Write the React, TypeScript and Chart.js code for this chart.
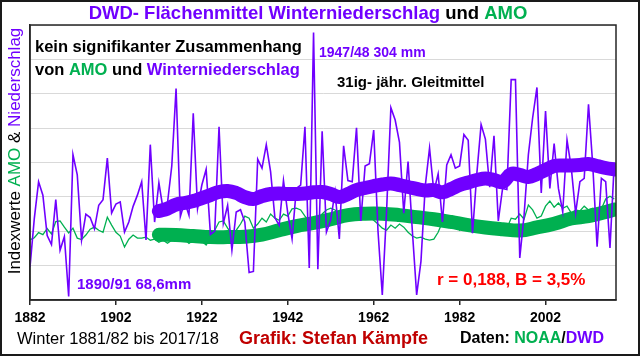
import React, { useEffect, useRef } from 'react';
import { Chart, registerables } from 'chart.js';

Chart.register(...registerables);

const FONT = '"Liberation Sans", Arial, Helvetica, sans-serif';
const PURPLE = '#7000FF';
const GREEN = '#00B050';
const BLACK = '#000000';

// Winters 1881/82 .. 2017/18, plotted at the January year
const firstYear = 1882;

// DWD area mean winter precipitation (mm)
const precipitationMm = [
  95, 138, 171, 159, 123, 115, 155, 110, 122, 68.6,
  195, 177, 119, 142, 139, 129, 150, 155, 192, 143,
  151, 153, 126, 135, 149, 159, 171, 119, 204, 135,
  170, 146, 152, 185, 254, 140, 153, 141, 232, 147,
  168, 182, 124, 127, 220, 134, 150, 110, 144, 146,
  135, 90, 91, 191, 183, 204, 180, 139, 132, 172,
  143, 120, 165, 168, 220, 94, 304, 93, 216, 126,
  137, 162, 120, 203, 172, 171, 219, 136, 185, 187,
  217, 127, 70, 145, 237, 226, 206, 143, 189, 127,
  70, 100, 167, 201, 162, 178, 135, 186, 195, 183,
  185, 213, 208, 125, 178, 222, 209, 166, 212, 136,
  165, 164, 262, 262, 103, 141, 195, 228, 255, 161,
  234, 165, 205, 165, 144, 208, 183, 143, 171, 174,
  240, 185, 113, 174, 171, 112, 188,
];

// AMO (index values on the chart's index axis)
const amoIndex = [
  1.75, 1.81, 1.96, 1.90, 2.08, 1.92, 2.28, 2.30, 2.12, 1.95,
  2.09, 1.80, 1.76, 1.89, 2.06, 2.12, 2.03, 1.97, 2.41, 2.18,
  1.97, 1.86, 1.54, 1.77, 1.89, 1.80, 1.80, 1.83, 1.74, 1.77,
  1.68, 1.74, 1.65, 1.74, 1.80, 1.71, 1.77, 1.65, 1.74, 1.80,
  1.71, 1.60, 1.80, 2.03, 2.27, 2.30, 2.09, 1.92, 2.03, 2.21,
  2.44, 2.38, 2.09, 2.21, 2.38, 2.27, 2.50, 2.38, 2.32, 2.50,
  2.44, 2.65, 2.67, 2.62, 2.44, 2.27, 2.38, 2.35, 2.50, 2.62,
  2.67, 2.62, 2.50, 2.59, 2.53, 2.44, 2.50, 2.56, 2.47, 2.41,
  2.32, 2.21, 2.09, 2.03, 2.18, 2.09, 2.21, 2.12, 1.97, 1.86,
  1.80, 1.83, 1.77, 1.74, 1.77, 1.97, 2.27, 2.15, 2.09, 2.21,
  2.03, 2.15, 2.09, 1.97, 2.06, 2.21, 2.03, 2.15, 2.09, 2.15,
  1.97, 2.09, 2.38, 2.35, 2.50, 2.35, 2.76, 2.62, 2.38, 2.44,
  2.73, 2.88, 2.70, 2.82, 2.67, 2.73, 2.53, 2.62, 2.59, 2.73,
  2.62, 2.67, 2.59, 2.65, 2.94, 3.02, 2.94,
];

// 31-year running mean of precipitation (mm)
const precipMeanYears = [
  1912, 1914, 1916, 1918, 1920, 1922, 1924, 1926, 1928, 1930,
  1932, 1934, 1936, 1938, 1940, 1942, 1944, 1946, 1948, 1950,
  1952, 1954, 1956, 1958, 1960, 1962, 1964, 1966, 1968, 1970,
  1972, 1974, 1976, 1978, 1980, 1982, 1984, 1986, 1988, 1990,
  1992, 1994, 1996, 1998, 2000, 2002, 2004, 2006, 2008, 2010,
  2012, 2014, 2016, 2018,
];
const precipMean = [
  144.8, 147.0, 150.6, 152.0, 153.7, 156.4, 159.1, 161.8, 162.7, 160.9,
  157.3, 155.5, 158.2, 160.0, 160.4, 160.0, 160.0, 160.4, 161.5, 161.8,
  160.0, 157.3, 160.0, 163.6, 165.4, 167.1, 168.5, 169.4, 168.0, 166.3,
  164.5, 163.1, 163.5, 161.5, 164.5, 168.0, 170.3, 172.5, 173.9, 172.5,
  170.7, 177.9, 177.0, 175.2, 177.9, 181.5, 185.0, 185.5, 185.5, 185.9,
  186.8, 185.0, 183.2, 181.9,
];

// 31-year running mean of AMO (index values)
const amoMeanYears = [
  1912, 1916, 1920, 1924, 1928, 1932, 1936, 1940, 1944, 1948,
  1952, 1956, 1960, 1964, 1968, 1972, 1976, 1980, 1984, 1988,
  1992, 1996, 2000, 2004, 2008, 2012, 2016, 2018,
];
const amoMean = [
  1.90, 1.89, 1.86, 1.83, 1.83, 1.84, 1.90, 2.03, 2.15, 2.24,
  2.35, 2.47, 2.51, 2.51, 2.47, 2.41, 2.35, 2.27, 2.18, 2.11,
  2.06, 2.02, 2.11, 2.22, 2.37, 2.44, 2.56, 2.63,
];

const xTickYears = [1882, 1902, 1922, 1942, 1962, 1982, 2002];

type Run = [string, string];

function drawRuns(
  ctx: CanvasRenderingContext2D,
  runs: Run[],
  x: number,
  y: number,
  font: string,
  align: 'left' | 'center' = 'left'
) {
  ctx.font = font;
  ctx.textBaseline = 'middle';
  ctx.textAlign = 'left';
  const total = runs.reduce((w, [t]) => w + ctx.measureText(t).width, 0);
  let cx = align === 'center' ? x - total / 2 : x;
  for (const [t, c] of runs) {
    ctx.fillStyle = c;
    ctx.fillText(t, cx, y);
    cx += ctx.measureText(t).width;
  }
}

export default function App() {
  const ref = useRef<HTMLCanvasElement>(null);

  useEffect(() => {
    document.body.style.margin = '0';
    const canvas = ref.current;
    if (!canvas) return;
    const years = precipitationMm.map((_, i) => firstYear + i);

    const decorPlugin = {
      id: 'decor',
      beforeDraw(chart: any) {
        const ctx = chart.ctx as CanvasRenderingContext2D;
        ctx.save();
        ctx.fillStyle = '#ffffff';
        ctx.fillRect(0, 0, chart.width, chart.height);
        ctx.restore();
      },
      afterDatasetsDraw(chart: any) {
        const ctx = chart.ctx as CanvasRenderingContext2D;
        const a = chart.chartArea;
        ctx.save();
        ctx.strokeStyle = '#262626';
        ctx.lineWidth = 1.5;
        ctx.strokeRect(a.left, a.top, a.right - a.left, a.bottom - a.top);
        ctx.restore();
      },
      afterDraw(chart: any) {
        const ctx = chart.ctx as CanvasRenderingContext2D;
        ctx.save();
        // title
        drawRuns(
          ctx,
          [
            ['DWD- Flächenmittel Winterniederschlag ', PURPLE],
            ['und ', BLACK],
            ['AMO', GREEN],
          ],
          308,
          14,
          `bold 18.5px ${FONT}`,
          'center'
        );
        // y axis title
        ctx.save();
        ctx.translate(15, 151);
        ctx.rotate(-Math.PI / 2);
        drawRuns(
          ctx,
          [
            ['Indexwerte ', BLACK],
            ['AMO', GREEN],
            [' & ', BLACK],
            ['Niederschlag', PURPLE],
          ],
          0,
          0,
          `17px ${FONT}`,
          'center'
        );
        ctx.restore();
        // annotations
        drawRuns(ctx, [['kein signifikanter Zusammenhang', BLACK]], 35, 47, `bold 16.5px ${FONT}`);
        drawRuns(
          ctx,
          [
            ['von ', BLACK],
            ['AMO', GREEN],
            [' und ', BLACK],
            ['Winterniederschlag', PURPLE],
          ],
          35,
          70,
          `bold 16.5px ${FONT}`
        );
        drawRuns(ctx, [['1947/48 304 mm', PURPLE]], 319, 53, `bold 14px ${FONT}`);
        drawRuns(ctx, [['31ig- jähr. Gleitmittel', BLACK]], 337, 83, `bold 15px ${FONT}`);
        drawRuns(ctx, [['1890/91 68,6mm', PURPLE]], 77, 285, `bold 15px ${FONT}`);
        drawRuns(ctx, [['r = 0,188, B = 3,5%', '#FF0000']], 437, 280, `bold 17px ${FONT}`);
        // footer
        drawRuns(ctx, [['Winter 1881/82 bis 2017/18', BLACK]], 17, 339, `16.5px ${FONT}`);
        drawRuns(ctx, [['Grafik: Stefan Kämpfe', '#C00000']], 239, 339, `bold 18px ${FONT}`);
        drawRuns(
          ctx,
          [
            ['Daten: ', BLACK],
            ['NOAA', GREEN],
            ['/', BLACK],
            ['DWD', PURPLE],
          ],
          460,
          339,
          `bold 16px ${FONT}`
        );
        // outer frame
        ctx.strokeStyle = '#1a1a1a';
        ctx.lineWidth = 2;
        ctx.strokeRect(1, 1, chart.width - 2, chart.height - 2);
        ctx.restore();
      },
    };

    const chart = new Chart(canvas, {
      type: 'line',
      data: {
        datasets: [
          {
            label: 'Niederschlag 31j. Gleitmittel',
            data: precipMeanYears.map((x, i) => ({ x, y: precipMean[i] })),
            yAxisID: 'yP',
            borderColor: PURPLE,
            backgroundColor: PURPLE,
            borderWidth: 14,
            pointRadius: 0,
            tension: 0.4,
            borderCapStyle: 'round',
            borderJoinStyle: 'round',
            order: 0,
            clip: 0,
          } as any,
          {
            label: 'Winterniederschlag',
            data: years.map((x, i) => ({ x, y: precipitationMm[i] })),
            yAxisID: 'yP',
            borderColor: PURPLE,
            backgroundColor: PURPLE,
            borderWidth: 1.6,
            pointRadius: 0,
            tension: 0,
            order: 1,
          } as any,
          {
            label: 'AMO 31j. Gleitmittel',
            data: amoMeanYears.map((x, i) => ({ x, y: amoMean[i] })),
            yAxisID: 'y',
            borderColor: GREEN,
            backgroundColor: GREEN,
            borderWidth: 14,
            pointRadius: 0,
            tension: 0.4,
            borderCapStyle: 'round',
            borderJoinStyle: 'round',
            order: 2,
            clip: 0,
          } as any,
          {
            label: 'AMO',
            data: years.map((x, i) => ({ x, y: amoIndex[i] })),
            yAxisID: 'y',
            borderColor: GREEN,
            backgroundColor: GREEN,
            borderWidth: 1.3,
            pointRadius: 0,
            tension: 0,
            order: 3,
          } as any,
        ],
      },
      options: {
        responsive: false,
        animation: false,
        devicePixelRatio: 1,
        events: [],
        layout: { padding: { top: 25, right: 24, left: 0, bottom: 0 } },
        plugins: {
          legend: { display: false },
          tooltip: { enabled: false },
          title: { display: false },
        },
        scales: {
          x: {
            type: 'linear',
            min: 1882,
            max: 2018.4,
            afterBuildTicks: (s: any) => {
              s.ticks = xTickYears.map((v) => ({ value: v }));
            },
            afterFit: (s: any) => {
              s.height = 56;
            },
            ticks: {
              callback: (v: any) => String(v),
              color: BLACK,
              font: { family: FONT, size: 14, weight: 'bold' },
              padding: 5,
              maxRotation: 0,
              autoSkip: false,
            },
            grid: {
              drawOnChartArea: false,
              drawTicks: true,
              tickLength: 5,
              color: '#262626',
              lineWidth: 1.5,
            },
            border: { display: true, color: '#262626', width: 1.5 },
          },
          y: {
            type: 'linear',
            min: 0,
            max: 8,
            afterFit: (s: any) => {
              s.width = 30;
            },
            ticks: { display: false, stepSize: 1 },
            grid: { color: '#d9d9d9', lineWidth: 1, drawTicks: false },
            border: { display: true, color: '#262626', width: 1.5 },
          },
          yP: {
            type: 'linear',
            display: false,
            min: 65.5,
            max: 310.7,
          },
        },
      } as any,
      plugins: [decorPlugin],
    });

    return () => chart.destroy();
  }, []);

  return (
    <div style={{ position: 'absolute', left: 0, top: 0, width: 640, height: 356 }}>
      <canvas ref={ref} width={640} height={356} style={{ display: 'block' }} />
    </div>
  );
}
